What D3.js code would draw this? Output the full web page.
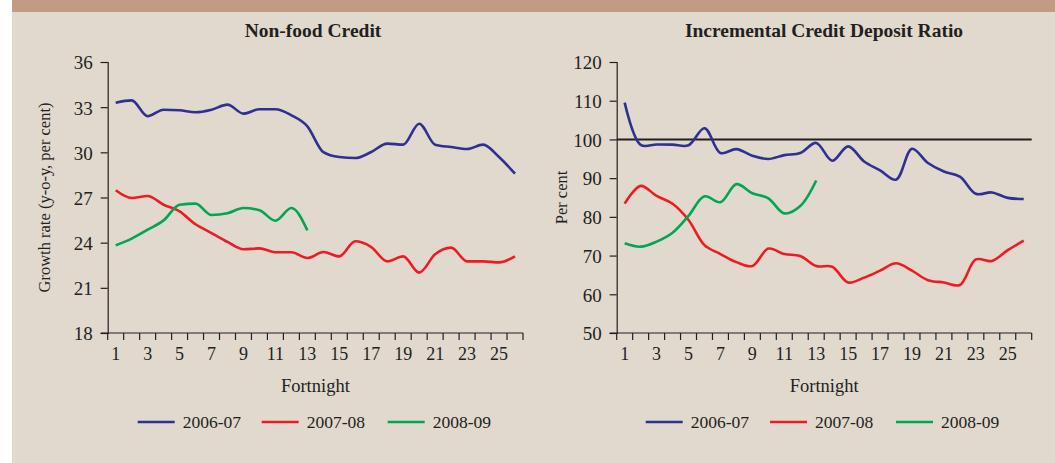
<!DOCTYPE html>
<html>
<head>
<meta charset="utf-8">
<script src="https://cdn.jsdelivr.net/npm/d3@7"></script>
<style>
  body { margin: 0; background: #fff; }
  svg text { font-family: "Liberation Serif", "DejaVu Serif", serif; fill: #231f20; }
</style>
</head>
<body>
<div id="chart"></div>
<script>
  // fortnights 1..26
  const fortnights = d3.range(1, 27);
  const seriesNames = ["2006-07", "2007-08", "2008-09"];
  const seriesColors = ["#2e3192", "#ed1c24", "#00a651"];

  // Non-food credit growth (y-o-y, per cent)
  const credit0607 = [33.3, 33.45, 32.4, 32.83, 32.79, 32.66, 32.83, 33.17, 32.57, 32.86, 32.86, 32.46, 31.73,
    30.02, 29.69, 29.62, 30.02, 30.58, 30.51, 31.9, 30.51, 30.35, 30.22, 30.51, 29.69, 28.58];
  const credit0708 = [27.48, 26.97, 27.1, 26.52, 26.08, 25.22, 24.64, 24.05, 23.56, 23.62, 23.36, 23.36, 22.98,
    23.38, 23.09, 24.09, 23.71, 22.76, 23.09, 22.01, 23.23, 23.67, 22.76, 22.76, 22.69, 23.09];
  const credit0809 = [23.82, 24.27, 24.86, 25.48, 26.52, 26.59, 25.84, 25.95, 26.3, 26.15, 25.46, 26.3, 24.82];

  // Incremental credit deposit ratio (per cent)
  const icdr0607 = [109.5, 98.6, 98.7, 98.65, 98.5, 102.9, 96.5, 97.5, 95.8, 94.95, 95.95, 96.5, 99.1,
    94.5, 98.2, 94.3, 92.0, 89.6, 97.6, 93.9, 91.7, 90.4, 85.95, 86.3, 84.9, 84.6];
  const icdr0708 = [83.4, 88.0, 85.4, 83.4, 79.2, 72.7, 70.4, 68.3, 67.3, 71.8, 70.4, 69.9, 67.3,
    67.1, 63.05, 64.3, 66.1, 68.0, 66.1, 63.65, 63.05, 62.4, 69.0, 68.6, 71.4, 73.85];
  const icdr0809 = [73.2, 72.3, 73.6, 75.9, 80.25, 85.3, 83.8, 88.45, 86.1, 84.8, 80.9, 82.8, 89.4];

  const creditTicks = [18, 21, 24, 27, 30, 33, 36];
  const icdrTicks = [50, 60, 70, 80, 90, 100, 110, 120];
  const xTickLabels = fortnights.filter(d => d % 2 === 1);

  const width = 1055, height = 463;
  const svg = d3.select("#chart").append("svg")
    .attr("width", width)
    .attr("height", height);

  svg.append("rect").attr("x", 12).attr("y", 0).attr("width", width - 12).attr("height", height)
    .attr("fill", "#e1d8ce");
  svg.append("rect").attr("x", 12).attr("y", 0).attr("width", width - 12).attr("height", 12)
    .attr("fill", "#c09c85");

  drawPanel({
    left: 107.7, right: 523, top: 62, bottom: 333,
    domain: [18, 36], ticks: creditTicks,
    title: "Non-food Credit", titleX: 313,
    yLabel: "Growth rate (y-o-y, per cent)", yLabelX: 50,
    series: [credit0607, credit0708, credit0809],
    curve: d3.curveMonotoneX,
    legendX: [137.7, 261.7, 387.7]
  });

  drawPanel({
    left: 616.7, right: 1031.7, top: 62, bottom: 333,
    domain: [50, 120], ticks: icdrTicks,
    title: "Incremental Credit Deposit Ratio", titleX: 824,
    yLabel: "Per cent", yLabelX: 567,
    series: [icdr0607, icdr0708, icdr0809],
    curve: d3.curveCatmullRom.alpha(0.5),
    refLine: 100,
    legendX: [645.7, 770, 896]
  });

  function drawPanel(opt) {
    const x = d3.scaleBand()
      .domain(fortnights)
      .range([opt.left, opt.right]);
    const y = d3.scaleLinear()
      .domain(opt.domain)
      .range([opt.bottom, opt.top]);

    const g = svg.append("g");

    g.append("text")
      .attr("x", opt.titleX)
      .attr("y", 37)
      .attr("text-anchor", "middle")
      .style("font-weight", "bold")
      .style("font-size", "19.5px")
      .text(opt.title);

    // y axis
    const yAxis = g.append("g")
      .attr("transform", "translate(" + opt.left + ",0)")
      .call(d3.axisLeft(y).tickValues(opt.ticks).tickSize(7).tickPadding(8));
    yAxis.attr("font-size", null).attr("font-family", null);
    yAxis.selectAll("text").style("font-size", "19px").attr("dy", "0.36em");

    // x axis, ticks on band edges, labels on odd fortnights
    const xAxis = g.append("g")
      .attr("transform", "translate(0," + opt.bottom + ")");
    xAxis.append("line")
      .attr("x1", opt.left - 7).attr("x2", opt.right)
      .attr("stroke", "#231f20").attr("stroke-width", 1.2);
    const edges = fortnights.map(d => x(d)).concat([x(26) + x.bandwidth()]);
    xAxis.selectAll(".edge")
      .data(edges)
      .enter().append("line")
      .attr("class", "edge")
      .attr("x1", d => d).attr("x2", d => d)
      .attr("y1", 0).attr("y2", 7)
      .attr("stroke", "#231f20").attr("stroke-width", 1.2);
    xAxis.selectAll(".lbl")
      .data(xTickLabels)
      .enter().append("text")
      .attr("class", "lbl")
      .attr("x", d => x(d) + x.bandwidth() / 2)
      .attr("y", 27)
      .attr("text-anchor", "middle")
      .style("font-size", "18px")
      .text(d => d);

    g.selectAll(".domain").attr("stroke", "#231f20").attr("stroke-width", 1.2);
    g.selectAll(".tick line").attr("stroke", "#231f20").attr("stroke-width", 1.2);
    g.selectAll(".tick text").style("fill", "#231f20");

    g.append("text")
      .attr("x", (opt.left + opt.right) / 2)
      .attr("y", 392)
      .attr("text-anchor", "middle")
      .style("font-size", "18.5px")
      .text("Fortnight");

    g.append("text")
      .attr("transform", "translate(" + opt.yLabelX + "," + ((opt.top + opt.bottom) / 2) + ") rotate(-90)")
      .attr("text-anchor", "middle")
      .style("font-size", "16.5px")
      .text(opt.yLabel);

    if (opt.refLine !== undefined) {
      g.append("line")
        .attr("x1", opt.left).attr("x2", opt.right)
        .attr("y1", y(opt.refLine)).attr("y2", y(opt.refLine))
        .attr("stroke", "#231f20").attr("stroke-width", 2);
    }

    const line = d3.line()
      .x((d, i) => x(fortnights[i]) + x.bandwidth() / 2)
      .y(d => y(d))
      .curve(opt.curve);

    g.selectAll(".series")
      .data(opt.series)
      .enter().append("path")
      .attr("class", "series")
      .attr("d", line)
      .attr("fill", "none")
      .attr("stroke", (d, i) => seriesColors[i])
      .attr("stroke-width", 2.6)
      .attr("stroke-linejoin", "round");

    // legend
    const legend = g.selectAll(".legend")
      .data(seriesNames)
      .enter().append("g")
      .attr("class", "legend")
      .attr("transform", (d, i) => "translate(" + opt.legendX[i] + ",422)");
    legend.append("line")
      .attr("x1", 0).attr("x2", 37)
      .attr("stroke", (d, i) => seriesColors[i])
      .attr("stroke-width", 2.6);
    legend.append("text")
      .attr("x", 45)
      .attr("y", 6)
      .style("font-size", "17.5px")
      .text(d => d);
  }
</script>
</body>
</html>
